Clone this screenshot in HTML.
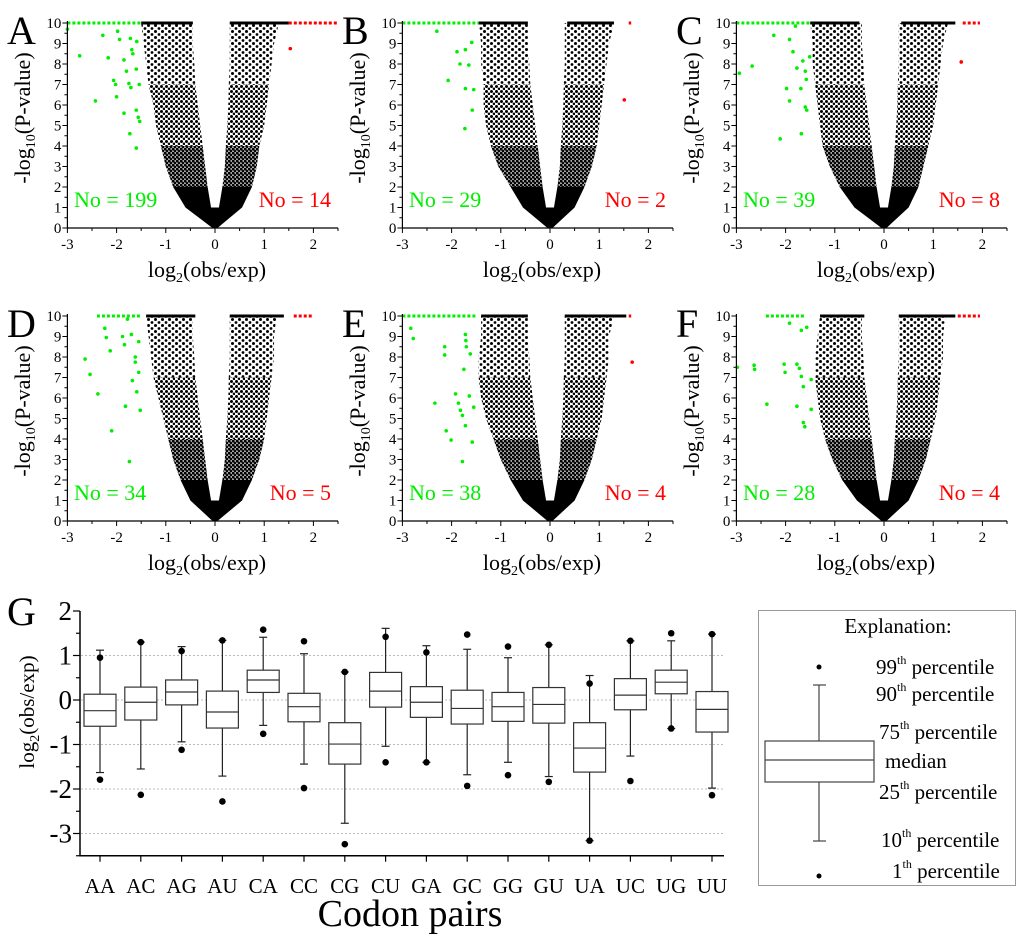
<!DOCTYPE html>
<html><head><meta charset="utf-8"><style>
html,body{margin:0;padding:0;background:#fff}
svg{display:block;font-family:"Liberation Serif",serif}
</style></head><body>
<svg id="fig" width="1024" height="938" viewBox="0 0 1024 938" xmlns="http://www.w3.org/2000/svg">
<defs>
<pattern id="dense" width="4" height="4" patternUnits="userSpaceOnUse"><rect width="4" height="4" fill="#000" fill-opacity="0.35"/><circle cx="1.2" cy="1.2" r="1.4" fill="#000"/><circle cx="3.2" cy="3.2" r="1.3" fill="#000"/></pattern>
<pattern id="mid" width="5" height="5" patternUnits="userSpaceOnUse"><circle cx="1.5" cy="1.5" r="1.5" fill="#000"/><circle cx="4" cy="3.8" r="1.3" fill="#000"/></pattern>
<pattern id="sparse" width="7" height="6" patternUnits="userSpaceOnUse"><circle cx="1.5" cy="1.5" r="1.5" fill="#000"/><circle cx="5" cy="4.5" r="1.4" fill="#000"/></pattern>
</defs>
</svg>
<script>
// ---------- Volcano data ----------
const panelLetters = ["A","B","C","D","E","F"];
const greenCounts = [199,29,39,34,38,28];
const redCounts = [14,2,8,5,4,4];
const levels = [0,1,2,3,4,5,6,7,8,9,10];
const densities = [3,3,2,2,1,1,1,0,0,0];
const leftInner = [0,-0.08,-0.15,-0.2,-0.25,-0.3,-0.35,-0.4,-0.42,-0.45,-0.45];
const rightInner = [0,0.08,0.15,0.2,0.22,0.25,0.27,0.28,0.3,0.3,0.3];
const leftOuterA = [-0.05,-0.6,-0.85,-1.0,-1.1,-1.2,-1.25,-1.35,-1.4,-1.45,-1.5];
const rightOuterA = [0.05,0.55,0.75,0.85,0.9,1.0,1.05,1.1,1.15,1.2,1.3];
const leftOuterB = [-0.05,-0.55,-0.8,-1.05,-1.2,-1.3,-1.35,-1.35,-1.4,-1.4,-1.45];
const rightOuterB = [0.05,0.5,0.7,0.85,0.95,1.0,1.05,1.1,1.15,1.2,1.3];
const leftOuterC = [-0.05,-0.6,-0.9,-1.1,-1.25,-1.3,-1.35,-1.4,-1.45,-1.45,-1.5];
const rightOuterC = [0.05,0.5,0.7,0.8,0.9,1.0,1.05,1.1,1.15,1.2,1.3];
const leftOuterD = [-0.05,-0.5,-0.7,-0.85,-0.95,-1.05,-1.15,-1.25,-1.3,-1.35,-1.4];
const rightOuterD = [0.05,0.55,0.75,0.9,1.0,1.05,1.1,1.15,1.2,1.2,1.25];
const leftOuterE = [-0.05,-0.55,-0.8,-1.0,-1.15,-1.3,-1.4,-1.45,-1.45,-1.4,-1.4];
const rightOuterE = [0.05,0.5,0.7,0.85,0.95,1.05,1.1,1.15,1.2,1.2,1.3];
const leftOuterF = [-0.05,-0.55,-0.85,-1.05,-1.2,-1.3,-1.35,-1.4,-1.4,-1.35,-1.3];
const rightOuterF = [0.05,0.5,0.7,0.85,0.95,1.05,1.1,1.15,1.2,1.2,1.25];
const leftOuters=[leftOuterA,leftOuterB,leftOuterC,leftOuterD,leftOuterE,leftOuterF];
const rightOuters=[rightOuterA,rightOuterB,rightOuterC,rightOuterD,rightOuterE,rightOuterF];
const topGreenRange = [[-3,-1.5],[-3,-1.45],[-3,-1.5],[-2.4,-1.5],[-3,-1.5],[-2.4,-1.6]];
const topBlackLeft = [[-1.5,-0.45],[-1.45,-0.45],[-1.5,-0.5],[-1.4,-0.4],[-1.4,-0.45],[-1.3,-0.4]];
const topBlackRight = [[0.3,1.5],[0.35,1.3],[0.35,1.45],[0.3,1.4],[0.3,1.55],[0.3,1.45]];
const topRedRange = [[1.5,2.5],[1.6,1.65],[1.6,1.95],[1.6,2.0],[1.6,1.65],[1.5,1.95]];
const greenX_A=[-2.75,-2.28,-1.98,-1.94,-1.72,-1.59,-2.17,-1.85,-1.69,-1.67,-1.8,-1.6,-2.06,-2.02,-1.75,-1.71,-1.54,-2.43,-2.0,-1.85,-1.6,-1.56,-1.53,-1.73,-1.6,-3];
const greenY_A=[8.4,9.4,9.6,9.2,9.25,9.1,8.3,8.2,8.7,8.5,7.65,7.75,7.2,7.0,7.05,6.85,7.0,6.2,6.4,5.6,5.75,5.4,5.2,4.6,3.9,9.7];
const greenX_B=[-2.3,-1.89,-1.72,-1.59,-2.07,-1.83,-1.65,-1.72,-1.55,-1.58,-1.73];
const greenY_B=[9.6,8.6,8.7,9.05,7.2,8.0,7.95,6.8,6.75,5.75,4.85];
const greenX_C=[-2.94,-2.68,-2.24,-1.92,-1.85,-1.77,-1.65,-1.51,-1.6,-1.58,-1.69,-1.98,-1.92,-1.6,-1.57,-1.68,-2.11,-1.8];
const greenY_C=[7.55,7.9,9.4,9.2,8.6,7.8,8.15,8.35,7.65,7.25,6.8,6.8,6.2,5.9,5.75,4.6,4.35,9.85];
const greenX_D=[-2.64,-2.54,-2.38,-2.24,-2.21,-2.13,-2.1,-1.88,-1.84,-1.7,-1.62,-1.62,-1.55,-1.55,-1.68,-1.59,-1.82,-1.52,-1.74,-1.78];
const greenY_D=[7.9,7.15,6.2,9.4,8.95,8.3,4.4,9.0,8.6,9.1,8.0,7.75,8.75,7.25,6.85,6.3,5.6,5.4,2.9,9.85];
const greenX_E=[-2.83,-2.78,-2.14,-2.14,-2.34,-1.92,-1.86,-2.11,-2.01,-1.72,-1.71,-1.7,-1.62,-1.75,-1.64,-1.55,-1.78,-1.72,-1.58,-1.78,-1.82];
const greenY_E=[9.4,8.9,8.5,8.1,5.75,6.2,5.75,4.4,3.95,9.1,8.8,8.5,8.15,7.4,6.1,5.55,5.15,4.65,3.85,2.9,5.4];
const greenX_F=[-2.98,-2.64,-2.63,-2.38,-2.03,-2.01,-1.92,-1.77,-1.72,-1.68,-1.68,-1.64,-1.77,-1.64,-1.61,-1.48,-1.57,-1.48];
const greenY_F=[7.5,7.6,7.4,5.7,7.65,7.25,9.65,7.65,7.45,9.3,7.05,6.55,5.6,4.8,4.6,5.45,9.45,6.9];
const greenXs=[greenX_A,greenX_B,greenX_C,greenX_D,greenX_E,greenX_F];
const greenYs=[greenY_A,greenY_B,greenY_C,greenY_D,greenY_E,greenY_F];
const redXs=[[1.53],[1.51],[1.57],[],[1.67],[]];
const redYs=[[8.75],[6.25],[8.1],[],[7.75],[]];
const volcXTicks=[-3,-2,-1,0,1,2];
const volcYTicks=[0,1,2,3,4,5,6,7,8,9,10];

// ---------- Box plot data ----------
const codons=["AA","AC","AG","AU","CA","CC","CG","CU","GA","GC","GG","GU","UA","UC","UG","UU"];
const p99=[0.95,1.3,1.1,1.34,1.58,1.32,0.63,1.42,1.07,1.47,1.2,1.24,0.37,1.33,1.5,1.48];
const p90=[1.12,1.3,1.2,1.34,1.41,1.04,0.63,1.61,1.22,1.14,0.95,1.24,0.55,1.33,1.33,1.48];
const q3=[0.13,0.29,0.45,0.2,0.67,0.15,-0.51,0.62,0.3,0.22,0.17,0.28,-0.51,0.48,0.67,0.19];
const med=[-0.24,-0.05,0.18,-0.27,0.45,-0.15,-0.99,0.2,-0.05,-0.19,-0.15,-0.1,-1.08,0.11,0.4,-0.21];
const q1=[-0.59,-0.45,-0.11,-0.63,0.17,-0.49,-1.44,-0.16,-0.39,-0.54,-0.48,-0.52,-1.62,-0.22,0.14,-0.72];
const p10=[-1.63,-1.55,-0.94,-1.71,-0.57,-1.44,-2.77,-1.04,-1.4,-1.68,-1.4,-1.72,-3.16,-1.26,-0.64,-1.98];
const p1=[-1.79,-2.13,-1.12,-2.28,-0.76,-1.98,-3.24,-1.4,-1.4,-1.93,-1.69,-1.84,-3.16,-1.82,-0.64,-2.14];
const boxYTicks=[2,1,0,-1,-2,-3];
const gridVals=[1,0,-1,-2,-3];

const NS="http://www.w3.org/2000/svg";
const svg=document.getElementById('fig');
function mk(tag,attrs,parent,text){const e=document.createElementNS(NS,tag);for(const k in attrs)e.setAttribute(k,attrs[k]);if(text!==undefined)e.textContent=text;(parent||svg).appendChild(e);return e;}
const fills=['url(#sparse)','url(#mid)','url(#dense)','#000'];

// ---------- Volcano panels ----------
for(let p=0;p<6;p++){
  const ox=[0,335,669][p%3], oy=p<3?0:293;
  const g=mk('g',{});
  
  
  const xS=v=>215+ox+v*49.2;
  const yS=v=>228+oy-v*20.5;
  for(let i=0;i<levels.length-1;i++){
    const a=levels[i],b=levels[i+1];
    const fill=fills[densities[i]];
    const lp=`${xS(leftOuters[p][i])},${yS(a)} ${xS(leftInner[i])},${yS(a)} ${xS(leftInner[i+1])},${yS(b)} ${xS(leftOuters[p][i+1])},${yS(b)}`;
    const rp=`${xS(rightInner[i])},${yS(a)} ${xS(rightOuters[p][i])},${yS(a)} ${xS(rightOuters[p][i+1])},${yS(b)} ${xS(rightInner[i+1])},${yS(b)}`;
    const l=mk('polygon',{points:lp,fill:fill},g);
    
    
    const r=mk('polygon',{points:rp,fill:fill},g);
    
    
  }
  mk('polygon',{points:`${xS(-0.15)},${yS(1)} ${xS(0)},${yS(0)} ${xS(0.15)},${yS(1)}`,fill:'#000'},g);
  const strip=(rng,col,nm)=>{const s=mk('line',{x1:xS(rng[0]),x2:xS(rng[1]),y1:yS(10),y2:yS(10),stroke:col,'stroke-width':3,'stroke-dasharray':col==='#000'?'none':'3,2'},g);
    
    };
  strip(topGreenRange[p],'#00ee00','top-green-points');
  strip(topBlackLeft[p],'#000','top-black-points-left');
  strip(topBlackRight[p],'#000','top-black-points-right');
  strip(topRedRange[p],'#ff0000','top-red-points');
  greenXs[p].forEach((x,i)=>{const c=mk('circle',{cx:xS(x),cy:yS(greenYs[p][i]),r:1.8,fill:'#00ee00'},g);
    
    });
  redXs[p].forEach((x,i)=>{const c=mk('circle',{cx:xS(x),cy:yS(redYs[p][i]),r:1.8,fill:'#ff0000'},g);
    
    });
  const ax=mk('path',{d:`M${xS(-3)},${yS(10)-2} V${yS(0)} H${xS(2.5)}`,stroke:'#000','stroke-width':1.2,fill:'none'},g);
  
  
  for(let v=0;v<=10;v+=0.5){mk('line',{x1:xS(-3),x2:xS(-3)-(v%1===0?5:3),y1:yS(v),y2:yS(v),stroke:'#000','stroke-width':1},g);}
  for(let v=-3;v<=2.5;v+=0.5){mk('line',{x1:xS(v),x2:xS(v),y1:yS(0),y2:yS(0)+(v%1===0?5:3),stroke:'#000','stroke-width':1},g);}
  volcYTicks.forEach(v=>{const t=mk('text',{x:xS(-3)-6,y:yS(v)+5,'font-size':15,'text-anchor':'end'},g,String(v));
    
    });
  volcXTicks.forEach(v=>{const t=mk('text',{x:xS(v),y:yS(0)+21,'font-size':15,'text-anchor':'middle'},g,String(v));
    
    });
  const L=mk('text',{x:7+ox,y:44+oy,'font-size':40},g,panelLetters[p]);
  
  
  const yt=mk('text',{x:0,y:0,'font-size':22,'text-anchor':'middle',transform:`translate(${30+ox},${118+oy}) rotate(-90)`},g);
  
  
  yt.innerHTML='-log<tspan font-size="14" dy="5">10</tspan><tspan dy="-5">(P-value)</tspan>';
  const xt=mk('text',{x:207+ox,y:277+oy,'font-size':22,'text-anchor':'middle'},g);
  
  
  xt.innerHTML='log<tspan font-size="14" dy="5">2</tspan><tspan dy="-5">(obs/exp)</tspan>';
  const gn=mk('text',{x:74+ox,y:207+oy,'font-size':22,fill:'#00ee00'},g,'No = '+greenCounts[p]);
  
  
  const rn=mk('text',{x:331+ox,y:207+oy,'font-size':22,fill:'#ff0000','text-anchor':'end'},g,'No = '+redCounts[p]);
  
  
}

// ---------- Box plot ----------
const G=mk('g',{});


const bx=i=>100+i*40.8;
const by=v=>700-v*44.5;
gridVals.forEach(v=>{const l=mk('line',{x1:81,x2:724,y1:by(v),y2:by(v),stroke:'#bbb','stroke-width':1,'stroke-dasharray':'2,2'},G);
  
  });
const gax=mk('path',{d:`M80,${by(2)} V${by(-3.5)} H724`,stroke:'#000','stroke-width':1.5,fill:'none'},G);


for(let v=-3.5;v<=2;v+=0.5){mk('line',{x1:80,x2:80-(v%1===0?7:4),y1:by(v),y2:by(v),stroke:'#000','stroke-width':1.2},G);}
boxYTicks.forEach(v=>{const t=mk('text',{x:72,y:by(v)+9,'font-size':27,'text-anchor':'end'},G,String(v));
  
  });
codons.forEach((c,i)=>{
  const x=bx(i);
  mk('line',{x1:x,x2:x,y1:by(-3.5),y2:by(-3.5)+6,stroke:'#000','stroke-width':1.2},G);
  const t=mk('text',{x:x,y:893,'font-size':21,'text-anchor':'middle'},G,c);
  
  
  const b=mk('g',{},G);
  
  
  mk('line',{x1:x,x2:x,y1:by(p90[i]),y2:by(q3[i]),stroke:'#222','stroke-width':1.2},b);
  mk('line',{x1:x,x2:x,y1:by(q1[i]),y2:by(p10[i]),stroke:'#222','stroke-width':1.2},b);
  mk('line',{x1:x-4,x2:x+4,y1:by(p90[i]),y2:by(p90[i]),stroke:'#222','stroke-width':1.2},b);
  mk('line',{x1:x-4,x2:x+4,y1:by(p10[i]),y2:by(p10[i]),stroke:'#222','stroke-width':1.2},b);
  mk('rect',{x:x-16,y:by(q3[i]),width:32,height:by(q1[i])-by(q3[i]),fill:'#fff',stroke:'#333','stroke-width':1.2},b);
  mk('line',{x1:x-16,x2:x+16,y1:by(med[i]),y2:by(med[i]),stroke:'#333','stroke-width':1.2},b);
  mk('circle',{cx:x,cy:by(p99[i]),r:3.3,fill:'#000'},b);
  mk('circle',{cx:x,cy:by(p1[i]),r:3.3,fill:'#000'},b);
});
const gy=mk('text',{x:0,y:0,'font-size':21,'text-anchor':'middle',transform:'translate(34,712) rotate(-90)'},G);


gy.innerHTML='log<tspan font-size="14" dy="5">2</tspan><tspan dy="-5">(obs/exp)</tspan>';
const gx=mk('text',{x:410,y:926,'font-size':38,'text-anchor':'middle'},G,'Codon pairs');


const gl=mk('text',{x:7,y:625,'font-size':40},G,'G');



// ---------- Legend ----------
const Lg=mk('g',{});


mk('rect',{x:758.5,y:610.5,width:257,height:275,fill:'#fff',stroke:'#999','stroke-width':1},Lg);
mk('text',{x:898,y:633,'font-size':21,'text-anchor':'middle'},Lg,'Explanation:');
mk('line',{x1:819,x2:819,y1:685,y2:741,stroke:'#444','stroke-width':1.2},Lg);
mk('line',{x1:819,x2:819,y1:782,y2:841,stroke:'#444','stroke-width':1.2},Lg);
mk('line',{x1:813,x2:826,y1:685,y2:685,stroke:'#444','stroke-width':1.2},Lg);
mk('line',{x1:813,x2:826,y1:841,y2:841,stroke:'#444','stroke-width':1.2},Lg);
mk('rect',{x:765,y:741,width:109,height:41,fill:'#fff',stroke:'#444','stroke-width':1.2},Lg);
mk('line',{x1:765,x2:874,y1:760,y2:760,stroke:'#444','stroke-width':1.2},Lg);
mk('circle',{cx:819,cy:667,r:2.5,fill:'#000'},Lg);
mk('circle',{cx:819,cy:876,r:2.5,fill:'#000'},Lg);
const legLabels=[['99','th',876,674],['90','th',876,701],['75','th',879,739],['25','th',879,799],['10','th',881,847],['1','th',892,878]];
legLabels.forEach(a=>{const t=mk('text',{x:a[2],y:a[3],'font-size':21},Lg);
  
  
  t.innerHTML=a[0]+'<tspan font-size="12" dy="-10">'+a[1]+'</tspan><tspan dy="10"> percentile</tspan>';});
const md=mk('text',{x:885,y:768,'font-size':21},Lg,'median');


</script>
</body></html>
